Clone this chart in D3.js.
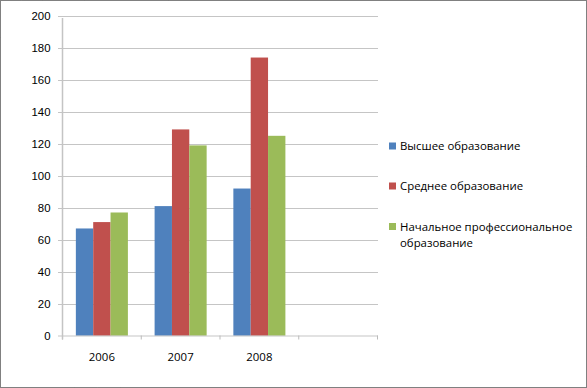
<!DOCTYPE html>
<html>
<head>
<meta charset="utf-8">
<script src="https://cdn.jsdelivr.net/npm/d3@7"></script>
<style>
  body { margin: 0; background: #fff; }
  svg { display: block; font-family: "Open Sans", "Liberation Sans", sans-serif; }
  .tick text { fill: #000; }
</style>
</head>
<body>
<svg id="chart" width="587" height="388"></svg>
<script>
// data
const years = ["2006", "2007", "2008", ""];
const seriesNames = ["Высшее образование", "Среднее образование", "Начальное профессиональное образование"];
const higher = [67, 81, 92];
const secondary = [71, 129, 174];
const vocational = [77, 119, 125];
const yTicks = [0, 20, 40, 60, 80, 100, 120, 140, 160, 180, 200];
const colors = ["#4F81BD", "#C0504D", "#9BBB59"];

const svg = d3.select("#chart");
const width = 587, height = 388;
const plot = { left: 62.5, right: 377.5, top: 16, bottom: 335.5 };
const fontSize = 11.4;

// dotted frame round the whole picture
svg.append("rect")
    .attr("x", 0.5).attr("y", 0.5)
    .attr("width", width - 1).attr("height", height - 1)
    .attr("fill", "none").attr("stroke", "#000")
    .attr("stroke-dasharray", "1,1");

const x = d3.scaleBand().domain(years).range([plot.left, plot.right]);
const y = d3.scaleLinear().domain([0, 200]).range([plot.bottom, plot.top]);
const inner = d3.scaleBand().domain(d3.range(3))
    .range([0, x.bandwidth()]).paddingOuter(0.77).paddingInner(0);

// gridlines
svg.append("g").selectAll("line")
    .data(yTicks.filter(d => d > 0))
    .join("line")
    .attr("x1", plot.left - 4).attr("x2", plot.right)
    .attr("y1", d => Math.round(y(d)) + 0.5).attr("y2", d => Math.round(y(d)) + 0.5)
    .attr("stroke", "#8a8a8a").attr("stroke-dasharray", "1,1");

// y axis labels
const yAxis = d3.axisLeft(y).tickValues(yTicks).tickSize(0).tickPadding(12);
svg.append("g")
    .attr("transform", `translate(${plot.left},0)`)
    .call(yAxis)
    .call(g => g.select(".domain").remove())
    .selectAll("text").attr("font-size", fontSize);

// bars
const seriesValues = [higher, secondary, vocational];
const barGroups = svg.append("g").selectAll("g")
    .data(seriesValues)
    .join("g")
    .attr("fill", (d, i) => colors[i]);

barGroups.each(function(values, si) {
    d3.select(this).selectAll("rect")
        .data(values)
        .join("rect")
        .attr("x", (d, i) => x(years[i]) + inner(si))
        .attr("width", inner.bandwidth())
        .attr("y", d => y(d))
        .attr("height", d => y(0) - y(d));
});

// x axis: dotted baseline with category ticks
const xAxis = svg.append("g");
xAxis.append("line")
    .attr("x1", plot.left - 4).attr("x2", plot.right)
    .attr("y1", plot.bottom + 0.5).attr("y2", plot.bottom + 0.5)
    .attr("stroke", "#8a8a8a").attr("stroke-dasharray", "1,1");
xAxis.selectAll(".cat-tick")
    .data(years.map(d => x(d)).concat([plot.right]))
    .join("line")
    .attr("class", "cat-tick")
    .attr("x1", d => d).attr("x2", d => d)
    .attr("y1", plot.bottom).attr("y2", plot.bottom + 4)
    .attr("stroke", "#bbb");
xAxis.selectAll("text")
    .data(years)
    .join("text")
    .attr("x", d => x(d) + x.bandwidth() / 2)
    .attr("y", 361)
    .attr("text-anchor", "middle")
    .attr("font-size", fontSize)
    .text(d => d);

// y axis line
svg.append("line")
    .attr("x1", plot.left).attr("x2", plot.left)
    .attr("y1", plot.top + 2).attr("y2", plot.bottom + 4)
    .attr("stroke", "#c4c4c4").attr("stroke-width", 1.5);

// legend
const legendRows = [
    { lines: [seriesNames[0]], y: 146 },
    { lines: [seriesNames[1]], y: 186 },
    { lines: ["Начальное профессиональное", "образование"], y: 226.5 }
];
const legend = svg.append("g").selectAll("g")
    .data(legendRows)
    .join("g")
    .attr("transform", d => `translate(389,${d.y})`);
legend.append("rect")
    .attr("x", 0).attr("y", -3.5).attr("width", 7).attr("height", 7)
    .attr("fill", (d, i) => colors[i]);
legend.append("text")
    .attr("x", 11).attr("y", 4)
    .attr("font-size", fontSize)
    .selectAll("tspan")
    .data(d => d.lines)
    .join("tspan")
    .attr("x", 11)
    .attr("dy", (d, i) => i === 0 ? 0 : 16)
    .text(d => d);
</script>
</body>
</html>
